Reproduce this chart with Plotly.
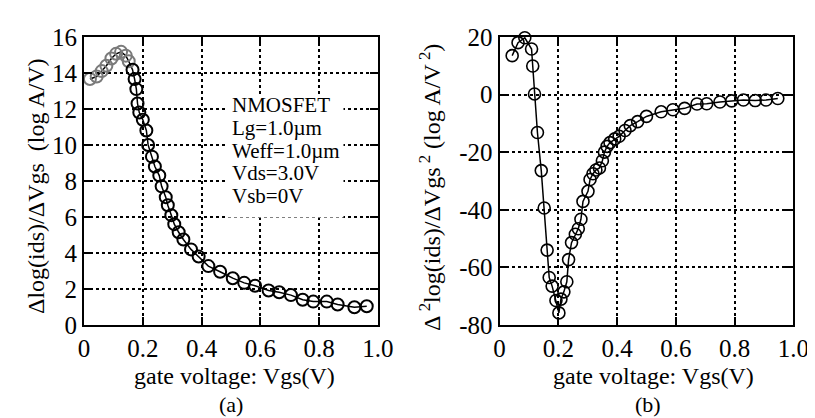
import plotly.graph_objects as go

# ---- data: panel (a) ----
vgs_a = [0.02, 0.043, 0.06, 0.076, 0.093, 0.109, 0.126, 0.142, 0.152, 0.165, 0.172, 0.178,
         0.182, 0.188, 0.2, 0.212, 0.218, 0.231, 0.241, 0.256, 0.264, 0.278, 0.285, 0.297,
         0.307, 0.322, 0.338, 0.364, 0.39, 0.423, 0.463, 0.506, 0.545, 0.582, 0.628, 0.664,
         0.704, 0.744, 0.78, 0.826, 0.863, 0.92, 0.962]
dlog_a = [13.66, 13.8, 14.1, 14.4, 14.8, 15.06, 15.17, 14.96, 14.65, 14.18, 13.66, 13.1,
          12.3, 11.8, 11.4, 10.8, 10.0, 9.35, 8.8, 8.3, 7.7, 7.1, 6.65, 6.1,
          5.6, 5.15, 4.75, 4.2, 3.8, 3.27, 2.96, 2.6, 2.34, 2.18, 1.92, 1.82,
          1.66, 1.40, 1.30, 1.30, 1.14, 0.99, 1.04]

# ---- data: panel (b) ----
vgs_b = [0.043, 0.063, 0.086, 0.109, 0.113, 0.119, 0.129, 0.142, 0.152, 0.162, 0.169, 0.179,
         0.192, 0.202, 0.209, 0.219, 0.229, 0.235, 0.245, 0.258, 0.268, 0.277, 0.284, 0.301,
         0.308, 0.318, 0.328, 0.34, 0.35, 0.357, 0.366, 0.376, 0.392, 0.407, 0.427, 0.445,
         0.47, 0.50, 0.55, 0.59, 0.63, 0.672, 0.705, 0.75, 0.79, 0.83, 0.87, 0.907, 0.947]
d2log_b = [13.5, 18.0, 19.7, 15.8, 9.9, 0.2, -13.2, -26.4, -39.4, -54, -63.5, -66.5,
           -71.5, -75.8, -71, -68.5, -65, -57.3, -51.4, -48.5, -46.6, -43.3, -37.1, -33.6,
           -29.5, -27.5, -26.2, -25.5, -23, -20, -18, -16.7, -15.4, -14.5, -12.5, -10.8,
           -9.4, -7.6, -6.0, -5.3, -4.8, -3.3, -3.2, -2.6, -2.2, -1.9, -2.1, -1.9, -1.4]

x_ticks = [0, 0.2, 0.4, 0.6, 0.8, 1.0]
x_ticktext = ["0", "0.2", "0.4", "0.6", "0.8", "1.0"]
ya_ticks = [0, 2, 4, 6, 8, 10, 12, 14, 16]
yb_ticks = [20, 0, -20, -40, -60, -80]
yb_ticktext = ["20", "0", "-20", "-40", "-60", "-80"]

info_lines = ["NMOSFET", "Lg=1.0\u00b5m", "Weff=1.0\u00b5m", "Vds=3.0V", "Vsb=0V"]

W, H = 815, 418
FONT = "Liberation Serif"

colors_a = ["#7a7a7a" if v < 0.16 else "black" for v in vgs_a]

fig = go.Figure()
fig.add_trace(go.Scatter(
    x=vgs_a, y=dlog_a, mode="lines+markers", xaxis="x", yaxis="y",
    line=dict(color="black", width=1.5),
    marker=dict(symbol="circle-open", size=12, color=colors_a, line=dict(width=2)),
    showlegend=False, cliponaxis=False))
fig.add_trace(go.Scatter(
    x=vgs_b, y=d2log_b, mode="lines+markers", xaxis="x2", yaxis="y2",
    line=dict(color="black", width=1.5),
    marker=dict(symbol="circle-open", size=12, color="black", line=dict(width=1.6)),
    showlegend=False, cliponaxis=False))

ax_common = dict(
    showline=True, linecolor="black", linewidth=2, mirror="ticks",
    ticks="inside", ticklen=8, tickwidth=2, tickcolor="black",
    showgrid=True, gridcolor="black", griddash="dot", gridwidth=1.5,
    zeroline=False, tickfont=dict(family=FONT, size=25, color="black"),
)

ydom = [1 - 325 / H, 1 - 17 / H]
fig.update_layout(
    width=W, height=H, margin=dict(l=0, r=0, t=0, b=0),
    paper_bgcolor="white", plot_bgcolor="white",
    xaxis=dict(domain=[72 / W, 374 / W], range=[0, 1.0], tickvals=x_ticks,
               ticktext=x_ticktext, anchor="y", **ax_common),
    yaxis=dict(domain=ydom, range=[0, 16], tickvals=ya_ticks, anchor="x", **ax_common),
    xaxis2=dict(domain=[499 / W, 801 / W], range=[0, 1.0], tickvals=x_ticks,
                ticktext=x_ticktext, anchor="y2", **ax_common),
    yaxis2=dict(domain=ydom, range=[-80, 20], tickvals=yb_ticks, ticktext=yb_ticktext,
                anchor="x2", **ax_common),
)

def ann(text, x, y, size=25, angle=0, xanchor="center", yanchor="middle", **kw):
    fig.add_annotation(text=text, x=x / W, y=1 - y / H, xref="paper", yref="paper",
                       showarrow=False, textangle=angle, xanchor=xanchor, yanchor=yanchor,
                       font=dict(family=FONT, size=size, color="black"), **kw)

ann("gate voltage: Vgs(V)", 227, 380, size=24)
ann("gate voltage: Vgs(V)", 657, 380, size=24)
ann("(a)", 223, 410, size=22)
ann("(b)", 652, 410, size=22)
ann("\u0394log(ids)/\u0394Vgs  (log A/V)", 22, 176, size=24, angle=-90)
ann("\u0394<sup> 2</sup>log(ids)/\u0394Vgs<sup> 2</sup> (log A/V<sup> 2</sup>)", 427, 178,
    size=24, angle=-90)

# white panel behind the device description (hides grid lines)
fig.add_annotation(text=" ", x=218 / W, y=1 - 78 / H, xref="paper", yref="paper",
                   xanchor="left", yanchor="top", showarrow=False,
                   width=116, height=122, bgcolor="white", borderpad=0,
                   font=dict(family=FONT, size=10))
for i, t in enumerate(info_lines):
    ann(t, 222, 90 + 24.3 * i, size=21, xanchor="left")

fig.write_html("out.html")
